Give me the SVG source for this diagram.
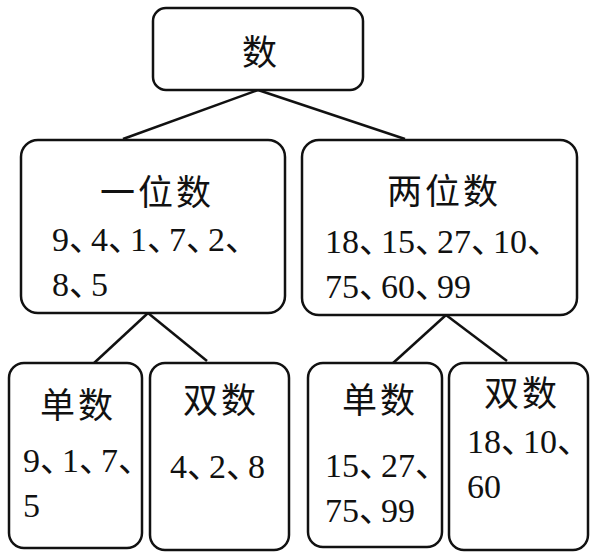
<svg xmlns="http://www.w3.org/2000/svg" width="591" height="556" viewBox="0 0 591 556">
<style>
.box{fill:#fff;stroke:#111;stroke-width:2.5}
.ln{stroke:#111;stroke-width:2.5;fill:none}
.h{font-family:"Noto Sans CJK SC",sans-serif;font-size:35px;fill:#111;text-anchor:middle;letter-spacing:3px}
.n{font-family:"Liberation Serif","Times New Roman",serif;font-size:34px;fill:#111}
.p{font-family:"Noto Sans CJK SC",sans-serif;letter-spacing:-12px}
</style>
<rect width="591" height="556" fill="#fff"/>
<g id="connectors">
<line class="ln" x1="258" y1="90" x2="123" y2="139"/>
<line class="ln" x1="258" y1="90" x2="405" y2="139"/>
<line class="ln" x1="148" y1="313" x2="93" y2="364"/>
<line class="ln" x1="148" y1="313" x2="207" y2="361"/>
<line class="ln" x1="446" y1="315" x2="392" y2="364"/>
<line class="ln" x1="446" y1="315" x2="507" y2="361"/>
</g>
<g id="root">
<rect class="box" x="153" y="8" width="210" height="82" rx="13"/>
<text class="h" x="261" y="65">数</text>
</g>
<g id="one-digit">
<rect class="box" x="21" y="140" width="264" height="173" rx="17"/>
<text class="h" x="157" y="205">一位数</text>
<text class="n" x="52" y="251">9<tspan class="p">、</tspan>4<tspan class="p">、</tspan>1<tspan class="p">、</tspan>7<tspan class="p">、</tspan>2<tspan class="p">、</tspan></text>
<text class="n" x="52" y="296">8<tspan class="p">、</tspan>5</text>
</g>
<g id="two-digit">
<rect class="box" x="302" y="140" width="275" height="175" rx="17"/>
<text class="h" x="444" y="204">两位数</text>
<text class="n" x="325" y="253">18<tspan class="p">、</tspan>15<tspan class="p">、</tspan>27<tspan class="p">、</tspan>10<tspan class="p">、</tspan></text>
<text class="n" x="325" y="298">75<tspan class="p">、</tspan>60<tspan class="p">、</tspan>99</text>
</g>
<g id="odd-1">
<rect class="box" x="9" y="363" width="133" height="185" rx="15"/>
<text class="h" x="78" y="418">单数</text>
<text class="n" x="23" y="472">9<tspan class="p">、</tspan>1<tspan class="p">、</tspan>7<tspan class="p">、</tspan></text>
<text class="n" x="23" y="517">5</text>
</g>
<g id="even-1">
<rect class="box" x="150" y="363" width="139" height="187" rx="15"/>
<text class="h" x="221" y="413">双数</text>
<text class="n" x="170" y="478">4<tspan class="p">、</tspan>2<tspan class="p">、</tspan>8</text>
</g>
<g id="odd-2">
<rect class="box" x="308" y="363" width="134" height="184" rx="15"/>
<text class="h" x="380" y="413">单数</text>
<text class="n" x="325" y="477">15<tspan class="p">、</tspan>27<tspan class="p">、</tspan></text>
<text class="n" x="325" y="522">75<tspan class="p">、</tspan>99</text>
</g>
<g id="even-2">
<rect class="box" x="449" y="363" width="139" height="187" rx="15"/>
<text class="h" x="522" y="406">双数</text>
<text class="n" x="467" y="453">18<tspan class="p">、</tspan>10<tspan class="p">、</tspan></text>
<text class="n" x="467" y="498">60</text>
</g>
</svg>
